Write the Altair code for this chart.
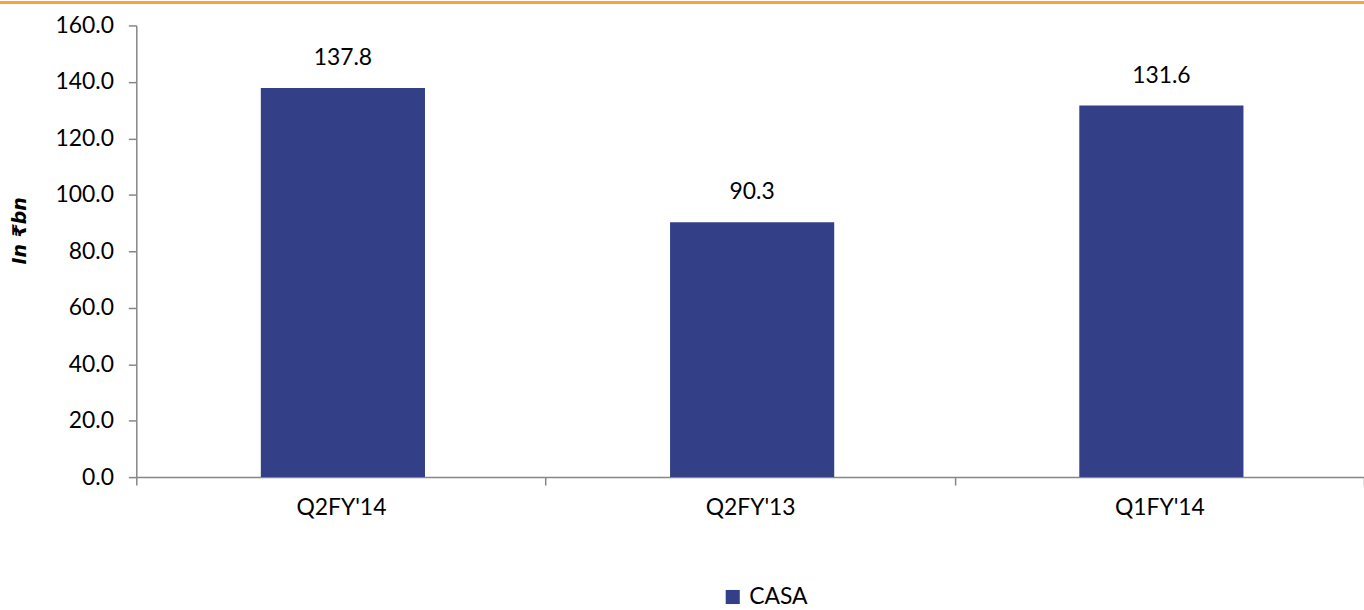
import altair as alt
import pandas as pd

quarters = ["Q2FY'14", "Q2FY'13", "Q1FY'14"]
casa = [137.8, 90.3, 131.6]
series = ["CASA", "CASA", "CASA"]

df = pd.DataFrame({"quarter": quarters, "value": casa, "series": series})

FONT = "Lato"
BAR = "#333F87"
AXIS = "#868686"
FS = 23

base = alt.Chart(df)

bars = base.mark_bar(size=165, xOffset=2).encode(
    x=alt.X("quarter:N", sort=None, title=None,
            scale=alt.Scale(paddingInner=0, paddingOuter=0),
            axis=alt.Axis(labelAngle=0, labelFontSize=FS, labelFont=FONT, labelColor="#000000",
                          domainColor=AXIS, tickColor=AXIS, tickSize=8, tickBand="extent",
                          labelPadding=12, domainWidth=1.5, tickWidth=1.5)),
    y=alt.Y("value:Q", title="In ₹bn",
            scale=alt.Scale(domain=[0, 160], nice=False),
            axis=alt.Axis(values=[0, 20, 40, 60, 80, 100, 120, 140, 160], format=".1f",
                          labelFontSize=FS, labelFont=FONT, labelColor="#000000",
                          domainColor=AXIS, tickColor=AXIS, tickSize=8, grid=False,
                          labelPadding=15, domainWidth=1.5, tickWidth=1.5,
                          titleFont="DejaVu Sans", titleFontSize=19, titleFontWeight="bold",
                          titleFontStyle="italic", titleColor="#000000",
                          titleAngle=-90, titleBaseline="middle", titleAlign="center",
                          titleX=-117, titleY=206)),
    color=alt.Color("series:N", scale=alt.Scale(range=[BAR]),
                    legend=alt.Legend(title=None, orient="none", legendX=588, legendY=563,
                                      symbolType="square", symbolSize=200, symbolOpacity=1,
                                      labelFontSize=FS, labelFont=FONT, labelColor="#000000",
                                      symbolStrokeWidth=0, labelOffset=5)),
)

labels = base.mark_text(fontSize=FS, font=FONT, color="#000000", baseline="middle",
                        dy=-30, xOffset=2).encode(
    x=alt.X("quarter:N", sort=None),
    y="value:Q",
    text=alt.Text("value:Q", format=".1f"),
)

topline = alt.Chart(df).mark_rule(color="#F9A23A", strokeWidth=3).encode(
    x=alt.value(-137), x2=alt.value(1234), y=alt.value(-23)
)

chart = alt.layer(bars, labels, topline).properties(
    width=1234, height=454,
    autosize=alt.AutoSizeParams(type="none"),
    padding={"left": 137, "top": 24, "right": 0, "bottom": 132},
).configure_view(stroke=None)

chart.save("out.html", embed_options={"renderer": "svg", "actions": False})
